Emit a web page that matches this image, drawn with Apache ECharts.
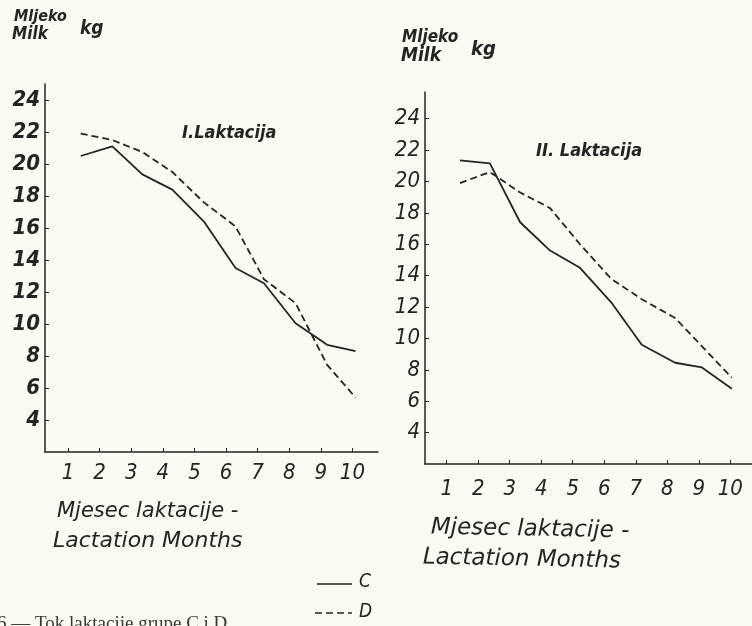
<!DOCTYPE html>
<html>
<head>
<meta charset="utf-8">
<title>Tok laktacije grupa C i D</title>
<script src="https://cdn.jsdelivr.net/npm/echarts@6/dist/echarts.min.js"></script>
<style>
  html, body { margin: 0; padding: 0; background: #fbfaf3; }
  #chart { width: 752px; height: 626px; }
</style>
</head>
<body>
<div id="chart"></div>
<script>
// mjeseci laktacije (tick labels) i y oznake
var months = [1, 2, 3, 4, 5, 6, 7, 8, 9, 10];
var yTicks = [4, 6, 8, 10, 12, 14, 16, 18, 20, 22, 24];

// I. laktacija - polozaj tocaka na osi mjeseci (procitano sa slike)
var lac1X = [1.4, 2.4, 3.35, 4.3, 5.3, 6.3, 7.2, 8.2, 9.2, 10.1];
var lac1C = [20.5, 21.1, 19.35, 18.4, 16.4, 13.5, 12.55, 10.05, 8.7, 8.3];
var lac1D = [21.9, 21.5, 20.75, 19.5, 17.6, 16.1, 12.8, 11.3, 7.45, 5.4];

// II. laktacija
var lac2X = [1.42, 2.37, 3.33, 4.28, 5.23, 6.22, 7.19, 8.25, 9.1, 10.05];
var lac2C = [21.35, 21.15, 17.4, 15.6, 14.5, 12.3, 9.6, 8.45, 8.15, 6.8];
var lac2D = [19.9, 20.6, 19.3, 18.3, 16.0, 13.8, 12.5, 11.3, 9.5, 7.5];

function pairs(xs, ys) {
  return xs.map(function (x, i) { return [x, ys[i]]; });
}

var ink = '#262422';
var fontFam = '"DejaVu Sans", sans-serif';
var condFam = '"DejaVu Sans Condensed", "DejaVu Sans", sans-serif';

var chart = echarts.init(document.getElementById('chart'));

function xAx(grid, min, max, margin) {
  return {
    type: 'value', gridIndex: grid, min: min, max: max,
    splitLine: { show: false },
    axisLine: { lineStyle: { color: ink, width: 1.5 } },
    axisTick: { customValues: months, length: 4, inside: true, lineStyle: { color: ink } },
    axisLabel: {
      customValues: months, margin: margin, color: ink, fontSize: 22,
      fontStyle: 'italic', fontFamily: condFam
    }
  };
}
function yAx(grid, max, bold) {
  return {
    type: 'value', gridIndex: grid, min: 2, max: max,
    splitLine: { show: false },
    axisLine: { show: true, lineStyle: { color: ink, width: 1.5 } },
    axisTick: { show: true, customValues: yTicks, length: 4, inside: true, lineStyle: { color: ink } },
    axisLabel: {
      customValues: yTicks, margin: 5, color: ink, fontSize: 22,
      fontStyle: 'italic', fontWeight: bold ? 'bold' : 'normal', fontFamily: condFam
    }
  };
}
function line(name, xi, data, dashed) {
  return {
    name: name, type: 'line', xAxisIndex: xi, yAxisIndex: xi,
    data: data, symbol: 'none', silent: true,
    lineStyle: { color: ink, width: 1.8, type: dashed ? [7, 4] : 'solid' }
  };
}
function txt(x, y, s, size, extra) {
  var o = {
    type: 'text', x: x, y: y, silent: true,
    style: {
      text: s, fill: ink, fontSize: size, fontStyle: 'italic',
      fontFamily: fontFam
    }
  };
  if (extra) {
    for (var k in extra) {
      if (k === 'rotation') o.rotation = extra[k]; else o.style[k] = extra[k];
    }
  }
  return o;
}

var option = {
  backgroundColor: '#fbfaf3',
  animation: false,
  grid: [
    { left: 45, top: 84, width: 333, height: 368 },
    { left: 425, top: 92, width: 327, height: 372 }
  ],
  xAxis: [xAx(0, 0.27, 10.81, 10), xAx(1, 0.31, 10.69, 14)],
  yAxis: [yAx(0, 25, true), yAx(1, 25.7, false)],
  series: [
    line('C', 0, pairs(lac1X, lac1C), false),
    line('D', 0, pairs(lac1X, lac1D), true),
    line('C', 1, pairs(lac2X, lac2C), false),
    line('D', 1, pairs(lac2X, lac2D), true)
  ],
  graphic: [
    txt(14, 9, 'Mljeko', 16, { fontWeight: 'bold', fontFamily: condFam }),
    txt(12, 26, 'Milk', 17, { fontWeight: 'bold', fontFamily: condFam }),
    txt(80, 20, 'kg', 19, { fontWeight: 'bold', fontFamily: condFam }),
    txt(402, 29, 'Mljeko', 17, { fontWeight: 'bold', fontFamily: condFam }),
    txt(401, 47, 'Milk', 19, { fontWeight: 'bold', fontFamily: condFam }),
    txt(471, 40, 'kg', 20, { fontWeight: 'bold', fontFamily: condFam }),
    txt(182, 124, 'I.Laktacija', 18, { fontWeight: 'bold', fontFamily: condFam }),
    txt(536, 142, 'II. Laktacija', 18, { fontWeight: 'bold', fontFamily: condFam }),
    txt(57, 501, 'Mjesec laktacije -', 21),
    txt(53, 530, 'Lactation Months', 22),
    txt(431, 516, 'Mjesec laktacije -', 23, { rotation: -0.02 }),
    txt(423, 546, 'Lactation Months', 23, { rotation: -0.02 }),
    {
      type: 'line', silent: true,
      shape: { x1: 317, y1: 584, x2: 352, y2: 584 },
      style: { stroke: ink, lineWidth: 1.6 }
    },
    txt(359, 573, 'C', 19, { fontFamily: condFam }),
    {
      type: 'line', silent: true,
      shape: { x1: 315, y1: 613, x2: 352, y2: 613 },
      style: { stroke: ink, lineWidth: 1.6, lineDash: [7, 4] }
    },
    txt(359, 603, 'D', 19, { fontFamily: condFam }),
    {
      type: 'text', x: -3, y: 615, silent: true,
      style: {
        text: '6 — Tok laktacije grupe C i D', fill: '#3a3835', fontSize: 19,
        fontFamily: '"Liberation Serif", serif'
      }
    }
  ]
};
chart.setOption(option);
</script>
</body>
</html>
